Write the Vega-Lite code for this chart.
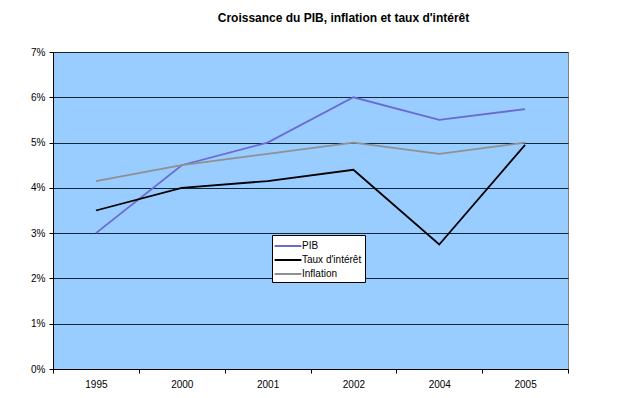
{
  "$schema": "https://vega.github.io/schema/vega-lite/v6.json",
  "width": 515,
  "height": 317,
  "autosize": {"type": "none"},
  "padding": {"left": 53, "top": 52, "right": 72, "bottom": 29},
  "background": "white",
  "title": {
    "text": "Croissance du PIB, inflation et taux d'intérêt",
    "font": "Liberation Sans",
    "fontSize": 12,
    "fontWeight": "bold",
    "color": "#000000",
    "anchor": "middle",
    "dx": 33,
    "offset": 22
  },
  "config": {
    "view": {"fill": "#99CCFF", "stroke": "#808080", "strokeWidth": 1},
    "font": "Liberation Sans"
  },
  "data": {
    "values": [
      {"annee": "1995", "serie": "PIB", "valeur": 3.0},
      {"annee": "2000", "serie": "PIB", "valeur": 4.5},
      {"annee": "2001", "serie": "PIB", "valeur": 5.0},
      {"annee": "2002", "serie": "PIB", "valeur": 6.0},
      {"annee": "2004", "serie": "PIB", "valeur": 5.5},
      {"annee": "2005", "serie": "PIB", "valeur": 5.74},
      {"annee": "1995", "serie": "Taux d'intérêt", "valeur": 3.5},
      {"annee": "2000", "serie": "Taux d'intérêt", "valeur": 4.0},
      {"annee": "2001", "serie": "Taux d'intérêt", "valeur": 4.15},
      {"annee": "2002", "serie": "Taux d'intérêt", "valeur": 4.4},
      {"annee": "2004", "serie": "Taux d'intérêt", "valeur": 2.75},
      {"annee": "2005", "serie": "Taux d'intérêt", "valeur": 4.95},
      {"annee": "1995", "serie": "Inflation", "valeur": 4.15},
      {"annee": "2000", "serie": "Inflation", "valeur": 4.5},
      {"annee": "2001", "serie": "Inflation", "valeur": 4.75},
      {"annee": "2002", "serie": "Inflation", "valeur": 5.0},
      {"annee": "2004", "serie": "Inflation", "valeur": 4.75},
      {"annee": "2005", "serie": "Inflation", "valeur": 5.0}
    ]
  },
  "mark": {"type": "line", "strokeWidth": 1.8},
  "encoding": {
    "x": {
      "field": "annee",
      "type": "ordinal",
      "bandPosition": 0.5,
      "scale": {"type": "band", "paddingInner": 0, "paddingOuter": 0},
      "axis": {
        "title": null,
        "labelAngle": 0,
        "labelFontSize": 10,
        "labelColor": "#000000",
        "labelPadding": 6,
        "tickBand": "extent",
        "tickSize": 4,
        "tickColor": "#000000",
        "domainColor": "#000000",
        "grid": false
      }
    },
    "y": {
      "field": "valeur",
      "type": "quantitative",
      "scale": {"domain": [0, 7], "nice": false, "zero": true},
      "axis": {
        "title": null,
        "values": [0, 1, 2, 3, 4, 5, 6, 7],
        "labelExpr": "datum.value + '%'",
        "labelFontSize": 10,
        "labelColor": "#000000",
        "labelPadding": 4,
        "tickSize": 4,
        "tickColor": "#000000",
        "domainColor": "#000000",
        "grid": true,
        "gridColor": "#10253a",
        "gridWidth": 1
      }
    },
    "color": {
      "field": "serie",
      "type": "nominal",
      "sort": ["PIB", "Taux d'intérêt", "Inflation"],
      "scale": {
        "domain": ["PIB", "Taux d'intérêt", "Inflation"],
        "range": ["#6A6ACF", "#000000", "#909090"]
      },
      "legend": {
        "title": null,
        "orient": "none",
        "legendX": 219,
        "legendY": 183,
        "symbolType": "M-2,0L2,0",
        "symbolSize": 180,
        "symbolStrokeWidth": 2,
        "symbolOffset": 5,
        "labelFontSize": 10,
        "labelColor": "#000000",
        "labelOffset": 6,
        "fillColor": "white",
        "strokeColor": "#000000",
        "padding": 3,
        "rowPadding": 1
      }
    }
  }
}
